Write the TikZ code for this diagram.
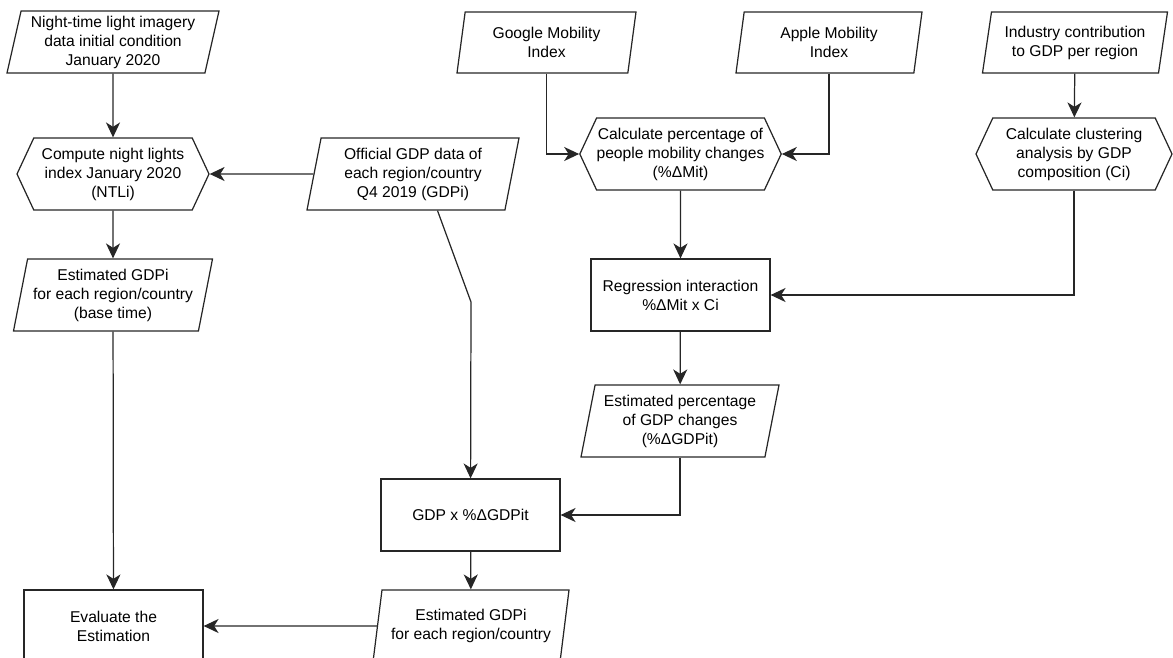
\documentclass[tikz,border=0pt]{standalone}
\usepackage{fontspec}
\setmainfont{Liberation Sans}
\usetikzlibrary{shapes.geometric}
\usetikzlibrary{shapes.symbols}
\usetikzlibrary{arrows.meta}
\tikzset{
    base/.style={draw=black!85, line width=0.7pt, align=center, inner sep=0pt, font=\fontsize{8.9}{10.8}\selectfont},
    data/.style args={#1/#2}{base, trapezium, trapezium left angle=75, trapezium right angle=105, trapezium stretches body, minimum width=#1, minimum height=#2},
    prep/.style={base, signal, signal to=west and east, signal pointer angle=130, minimum width=#1, minimum height=1.44cm},
    proc/.style={base, rectangle, minimum width=3.58cm, minimum height=1.44cm},
    flow/.style={draw=black!85, line width=0.7pt, -{Stealth[length=8.5pt,width=8pt,inset=2.5pt]}}
}

\begin{document}
\begin{tikzpicture}
		\useasboundingbox (0,0) rectangle (23.46,-13.16);
		\clip (0,0) rectangle (23.46,-13.16);

		%night lights
		\node[data=4.24cm/1.24cm] (ntl_data) at (2.26,-0.84) {Night-time light imagery\\data initial condition\\January 2020};
		\node[prep=3.84cm] (ntl) at (2.26,-3.48) {Compute night lights\\index January 2020\\(NTLi)};
		\node[data=3.98cm/1.44cm] (gdp_base) at (2.26,-5.9) {Estimated GDPi\\for each region/country\\(base time)};
		\node[proc] (eval) at (2.27,-12.52) {Evaluate the\\Estimation};

		%official gdp
		\node[data=4.24cm/1.44cm] (gdp_off) at (8.26,-3.48) {Official GDP data of\\each region/country\\Q4 2019 (GDPi)};
		\node[proc] (mult) at (9.41,-10.3) {GDP x \%ΔGDPit};
		\node[data=3.92cm/1.44cm] (gdp_est) at (9.42,-12.52) {Estimated GDPi\\for each region/country};
		\coordinate (kink) at (9.42,-6.04);

		%mobility
		\node[data=3.58cm/1.22cm] (google) at (10.93,-0.85) {Google Mobility\\Index};
		\node[data=3.72cm/1.22cm] (apple) at (16.58,-0.85) {Apple Mobility\\Index};
		\node[prep=3.94cm] (mob) at (13.61,-3.08) {Calculate percentage of\\people mobility changes\\(\%ΔMit)};
		\node[proc] (reg) at (13.61,-5.9) {Regression interaction\\\%ΔMit x Ci};
		\node[data=3.96cm/1.44cm] (dgdp) at (13.6,-8.42) {Estimated percentage\\of GDP changes\\(\%ΔGDPit)};

		%industry
		\node[data=3.7cm/1.22cm] (ind) at (21.5,-0.85) {Industry contribution\\to GDP per region};
		\node[prep=3.92cm] (clus) at (21.48,-3.08) {Calculate clustering\\analysis by GDP\\composition (Ci)};

		\draw[flow] (ntl_data) -- (ntl);
		\draw[flow] (ntl) -- (gdp_base);
		\draw[flow] (gdp_base) -- (eval);
		\draw[flow] (gdp_off) -- (ntl);
		\draw[flow] ([xshift=0.49cm]gdp_off.south) -- (kink) -- (mult);
		\draw[flow] (google) |- (mob);
		\draw[flow] (apple) |- (mob);
		\draw[flow] (ind) -- (clus);
		\draw[flow] (clus) |- (reg);
		\draw[flow] (mob) -- (reg);
		\draw[flow] (reg) -- (dgdp);
		\draw[flow] (dgdp) |- (mult);
		\draw[flow] (mult) -- (gdp_est);
		\draw[flow] (gdp_est) -- (eval);

	\end{tikzpicture}
\end{document}
